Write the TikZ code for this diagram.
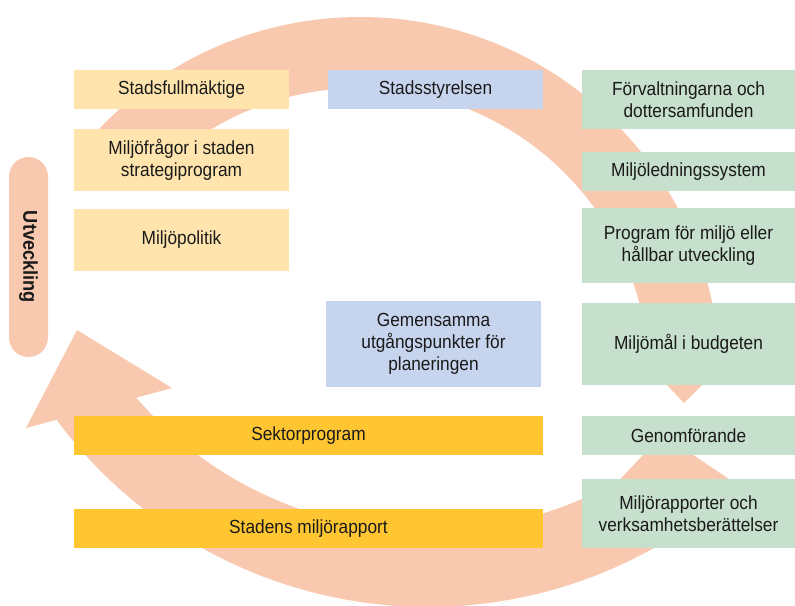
\documentclass[tikz,border=0pt]{standalone}
\usepackage{fontspec}
\setmainfont{Liberation Sans}[FakeStretch=0.91]
\definecolor{ringc}{HTML}{F8C8AF}
\definecolor{lyel}{HTML}{FFE4AD}
\definecolor{dyel}{HTML}{FFC631}
\definecolor{lblue}{HTML}{C7D4EE}
\definecolor{lgreen}{HTML}{C7DFCD}
\definecolor{txt}{HTML}{1A1A1A}
\begin{document}
\begin{tikzpicture}[x=1pt,y=-1pt,
  box/.style={rectangle, inner sep=0pt, align=center, text=txt,
    font=\fontsize{19}{21.8}\selectfont},
  narrowbox/.style={box, minimum width=215, minimum height=#1},
  widebox/.style={box, fill=dyel, minimum width=469, minimum height=39},
  rightbox/.style={box, fill=lgreen, minimum width=213, minimum height=#1},
  pill/.style={rectangle, rounded corners=19.5pt, fill=ringc, inner sep=0pt,
    minimum width=200, minimum height=39, rotate=-90, text=txt,
    font=\bfseries\fontsize{20}{22}\selectfont}]
\useasboundingbox (0,0) rectangle (795,605);
% ring: upper arrow
\fill[ringc] (360,377) ++(222:360) arc[start angle=222, end angle=351.37, radius=360]
  -- (764,323) -- (684,403) -- (608,323)
  -- ([shift={(360,377)}]349.23:289) arc[start angle=349.23, end angle=222, radius=289] -- cycle;
% ring: lower arrow
\fill[ringc] ([shift={(428,145)}]60.35:386) arc[start angle=60.35, end angle=139.1, radius=386]
  -- (172,388) -- (77,330) -- (26,428)
  -- ([shift={(428,145)}]143.5:462) arc[start angle=143.5, end angle=47.6, radius=462]
  -- (665,436) -- (643,455) -- cycle;
% left column
\node[narrowbox=39, fill=lyel] (sf) at (181.5,89.5) {Stadsfullmäktige};
\node[narrowbox=62, fill=lyel] (mf) at (181.5,160) {Miljöfrågor i staden\\strategiprogram};
\node[narrowbox=62, fill=lyel] (mp) at (181.5,240) {Miljöpolitik};
% middle
\node[narrowbox=39, fill=lblue] (ss) at (435.5,89.5) {Stadsstyrelsen};
\node[narrowbox=86, fill=lblue] (gu) at (433.5,344) {Gemensamma\\utgångspunkter för\\planeringen};
% wide
\node[widebox] (sp) at (308.5,435.5) {Sektorprogram};
\node[widebox] (sm) at (308.5,528.5) {Stadens miljörapport};
% right column
\node[rightbox=59] (fd) at (688.5,99.5) {Förvaltningarna och\\dottersamfunden};
\node[rightbox=39] (ml) at (688.5,171.5) {Miljöledningssystem};
\node[rightbox=75] (pr) at (688.5,245.5) {Program för miljö eller\\hållbar utveckling};
\node[rightbox=82] (mb) at (688.5,344) {Miljömål i budgeten};
\node[rightbox=39] (ge) at (688.5,435.5) {Genomförande};
\node[rightbox=69] (mr) at (688.5,513.5) {Miljörapporter och\\verksamhetsberättelser};
% side label
\node[pill] (ut) at (28.5,257) {Utveckling};
\end{tikzpicture}
\end{document}
